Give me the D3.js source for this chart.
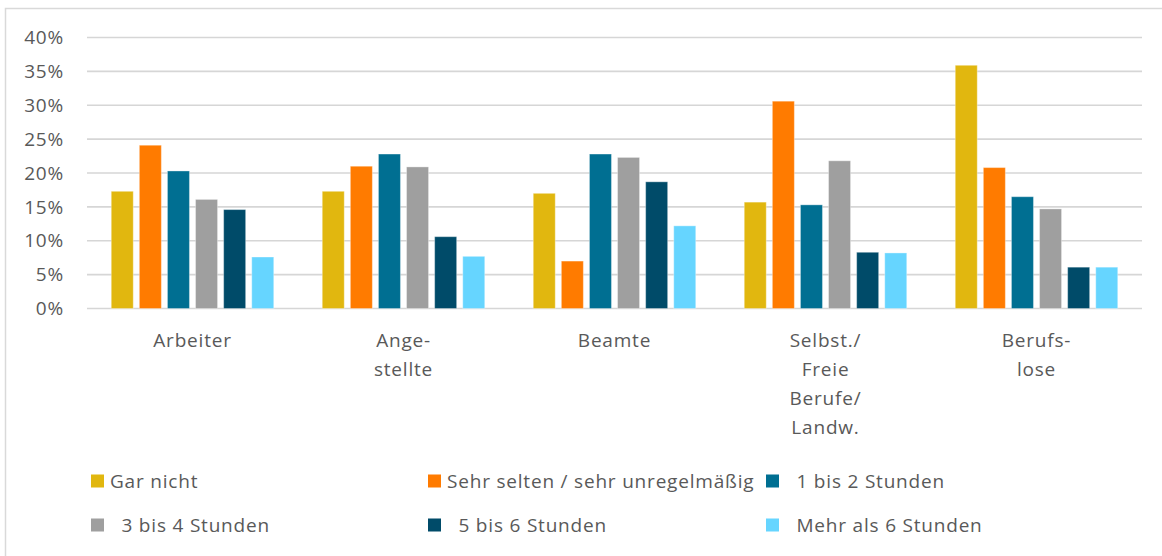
<!DOCTYPE html>
<html>
<head>
<meta charset="utf-8">
<script src="https://cdn.jsdelivr.net/npm/d3@7"></script>
<style>
  body { margin: 0; background: #fff; }
  text { font-family: "Open Sans", "Noto Sans", sans-serif; fill: #595959; font-size: 19px; letter-spacing: 0.8px; }
</style>
</head>
<body>
<script>
var width = 1162,
    height = 556;

var categories = [["Arbeiter"], ["Ange-", "stellte"], ["Beamte"], ["Selbst./", "Freie", "Berufe/", "Landw."], ["Berufs-", "lose"]];
var series = ["Gar nicht", "Sehr selten / sehr unregelmäßig", "  1 bis 2 Stunden", "  3 bis 4 Stunden", "  5 bis 6 Stunden", "  Mehr als 6 Stunden"];
var colors = ["#e1b70f", "#ff7b00", "#006f92", "#9f9f9f", "#004b69", "#66d5ff"];

var garNicht     = [17.3, 17.3, 17.0, 15.7, 35.9];
var sehrSelten   = [24.1, 21.0, 7.0, 30.6, 20.8];
var std1bis2     = [20.3, 22.8, 22.8, 15.3, 16.5];
var std3bis4     = [16.1, 20.9, 22.3, 21.8, 14.7];
var std5bis6     = [14.6, 10.6, 18.7, 8.3, 6.1];
var mehrAls6     = [7.6, 7.7, 12.2, 8.2, 6.1];
var values = [garNicht, sehrSelten, std1bis2, std3bis4, std5bis6, mehrAls6];

var yTicks = [0, 5, 10, 15, 20, 25, 30, 35, 40];

var svg = d3.select("body").append("svg")
  .attr("width", width)
  .attr("height", height);

// chart frame
svg.append("rect")
  .attr("x", 5.5).attr("y", 8.5)
  .attr("width", width + 10).attr("height", height + 10)
  .attr("fill", "none").attr("stroke", "#d9d9d9").attr("stroke-width", 1.5);

var x0 = d3.scaleBand()
  .domain(d3.range(categories.length))
  .range([87, 1142]);

var x1 = d3.scaleBand()
  .domain(d3.range(series.length))
  .range([0, x0.bandwidth()])
  .paddingInner(0.217)
  .paddingOuter(0.863);

var y = d3.scaleLinear()
  .domain([0, 40])
  .range([308.5, 37.5]);

// gridlines
svg.append("g")
  .selectAll("line")
  .data(yTicks)
  .enter().append("line")
    .attr("x1", 87).attr("x2", 1142)
    .attr("y1", function(d) { return y(d); })
    .attr("y2", function(d) { return y(d); })
    .attr("stroke", "#d6d6d6")
    .attr("stroke-width", 1.6);

// y labels
svg.append("g")
  .selectAll("text")
  .data(yTicks)
  .enter().append("text")
    .attr("x", 64)
    .attr("y", function(d) { return y(d); })
    .attr("dy", "0.35em")
    .attr("text-anchor", "end")
    .text(function(d) { return d + "%"; });

// bars
var groups = svg.append("g")
  .selectAll("g")
  .data(series)
  .enter().append("g")
    .attr("fill", function(d, i) { return colors[i]; });

groups.selectAll("rect")
  .data(function(d, i) { return values[i].map(function(v, c) { return {s: i, c: c, v: v}; }); })
  .enter().append("rect")
    .attr("x", function(d) { return x0(d.c) + x1(d.s); })
    .attr("y", function(d) { return y(d.v); })
    .attr("width", x1.bandwidth())
    .attr("height", function(d) { return y(0) - y(d.v); })
    .attr("stroke", "rgba(255,255,255,0.35)")
    .attr("stroke-width", 1);

// category labels
var catLabels = svg.append("g")
  .selectAll("text")
  .data(categories)
  .enter().append("text")
    .attr("text-anchor", "middle")
    .attr("transform", function(d, i) { return "translate(" + (x0(i) + x0.bandwidth() / 2) + ",346.5)"; });

catLabels.selectAll("tspan")
  .data(function(d) { return d; })
  .enter().append("tspan")
    .attr("x", 0)
    .attr("y", function(d, i) { return i * 29.2; })
    .text(function(d) { return d; });

// legend
var legendCols = [91, 428, 766],
    legendRows = [481, 525];

var legend = svg.append("g")
  .selectAll("g")
  .data(series)
  .enter().append("g")
    .attr("transform", function(d, i) { return "translate(" + legendCols[i % 3] + "," + legendRows[Math.floor(i / 3)] + ")"; });

legend.append("rect")
  .attr("x", 0).attr("y", -6.5)
  .attr("width", 13).attr("height", 13)
  .attr("fill", function(d, i) { return colors[i]; });

legend.append("text")
  .attr("x", 19)
  .attr("dy", "0.35em")
  .style("white-space", "pre")
  .text(function(d) { return d; });
</script>
</body>
</html>
